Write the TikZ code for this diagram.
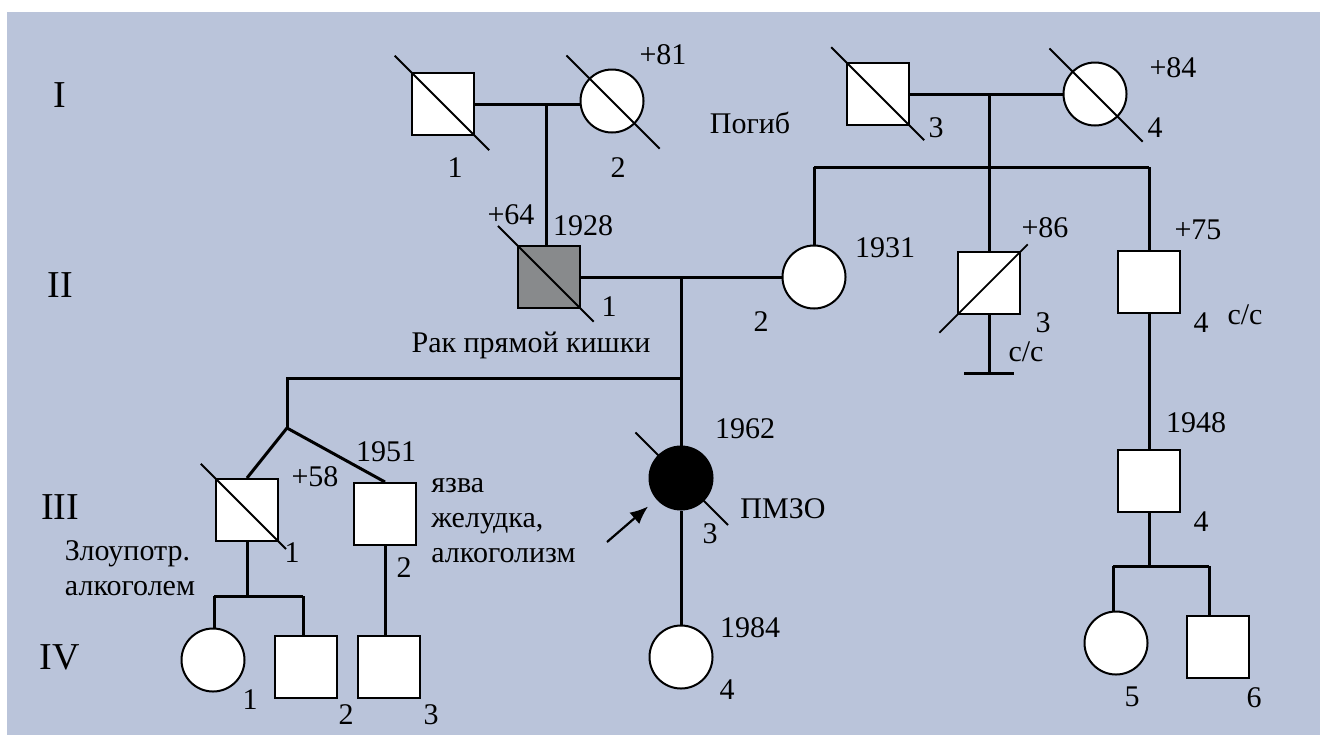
\documentclass[tikz,border=0pt]{standalone}
\usepackage{fontspec}
\setmainfont{Liberation Serif}
\usetikzlibrary{arrows.meta}

\definecolor{bgblue}{HTML}{BAC4DA}
\definecolor{sick}{HTML}{888A8C}

\pgfdeclarelayer{paper}
\pgfdeclarelayer{behind}
\pgfsetlayers{paper,behind,main}

\tikzset{%
	person/.style={draw, line width=1pt, fill=white, inner sep=0pt},
	male/.style={person, rectangle, minimum size=31pt},
	female/.style={person, circle, minimum size=31.5pt},
	line/.style={line width=1.5pt},
	deceased/.style 2 args={line width=0.9pt, shorten <=-#1, shorten >=-#2},
	lab/.style={inner sep=0pt, font=\fontsize{15}{17.5}\selectfont},
	gen/.style={inner sep=0pt, font=\fontsize{19}{22}\selectfont},
}

\begin{document}
\begin{tikzpicture}[x=0.5pt, y=-0.5pt]
			\useasboundingbox (0,0) rectangle (1320,735);
			\begin{pgfonlayer}{paper}
				\fill[white] (0,0) rectangle (1320,735);
				\fill[bgblue] (7,12) rectangle (1320,735);
			\end{pgfonlayer}
			
			% Generationen
			\node[gen] (gI) at (60,95) {I};
			\node[gen] (gII) at (60,285) {II};
			\node[gen] (gIII) at (60,507) {III};
			\node[gen] (gIV) at (60,657) {IV};
			
			% Personen
			\node[male] (I1) at (443,104) {};
			\node[female] (I2) at (612,101) {};
			\node[male] (I3) at (878,94) {};
			\node[female] (I4) at (1095,94) {};
			
			\node[male, fill=sick] (II1) at (549,277) {};
			\node[female] (II2) at (814,277) {};
			\node[male] (II3) at (989,283) {};
			\node[male] (II4) at (1149,282) {};
			
			\node[male] (III1) at (247,510) {};
			\node[male] (III2) at (385,514) {};
			\node[female, fill=black] (III3) at (681,478) {};
			\node[male] (III4) at (1149,481) {};
			
			\node[female] (IV1) at (213,660) {};
			\node[male] (IV2) at (306,667) {};
			\node[male] (IV3) at (389,667) {};
			\node[female] (IV4) at (681,657) {};
			\node[female] (IV5) at (1116,643) {};
			\node[male] (IV6) at (1218,647) {};
			
			\coordinate (m1) at (546,104);
			\coordinate (m2) at (681,277);
			\coordinate (s2) at (287,378);
			\coordinate (tw) at (287,428);
			\coordinate (m3) at (989,94);
			\coordinate (s1a) at (814,167);
			\coordinate (s1b) at (1149,167);
			\coordinate (nb) at (989,373);
			\coordinate (s3a) at (214,596);
			\coordinate (s3b) at (303,596);
			\coordinate (s4a) at (1113,566);
			\coordinate (s4b) at (1209,566);
			\coordinate (arr) at (607,542);
			
			% Linien
			\draw[line] (I1.east) -- (I1.east -| I2.west);
			\draw[line] (m1) -- (m1 |- II1.north);
			\draw[line] (I3) -- (I4);
			\draw[line] (m3) -- (II3.north);
			\draw[line] (s1a) -- (s1b);
			\draw[line] (s1a) -- (II2.north);
			\draw[line] (s1b) -- (II4.north);
			\draw[line] (II1) -- (II2);
			\draw[line] (m2) -- (III3.north);
			\draw[line] (s2 -| m2) -- (s2) -- (tw);
			\draw[line] (tw) -- (III1.north);
			\draw[line] (tw) -- (III2.north);
			\draw[line] (II3.south) -- (nb);
			\draw[line] ([xshift=-12.5pt]nb) -- ([xshift=12.5pt]nb);
			\draw[line] (II4.south) -- (III4.north);
			\draw[line] (III4.south) -- (III4.south |- s4a);
			\draw[line] (s4a) -- (s4b);
			\draw[line] (s4a) -- (s4a |- IV5.north);
			\draw[line] (s4b) -- (s4b |- IV6.north);
			\draw[line] (III1.south) -- (III1.south |- s3a);
			\draw[line] (s3a) -- (s3b);
			\draw[line] (s3a) -- (s3a |- IV1.north);
			\draw[line] (s3b) -- (s3b |- IV2.north);
			\draw[line] (III2.south) -- (III2.south |- IV3.north);
			\draw[line] (III3) -- (IV4);
			\draw[line width=1.1pt, -{Latex[length=9pt,width=7.5pt]}, shorten >=5.5pt] (arr) -- (III3);
			
			% verstorben
			\draw[deceased={11.5pt}{10pt}] (I1.north west) -- (I1.south east);
			\draw[deceased={16pt}{17.5pt}] (I2.135) -- (I2.-45);
			\draw[deceased={10.5pt}{10pt}] (I3.north west) -- (I3.south east);
			\draw[deceased={16pt}{17.5pt}] (I4.135) -- (I4.-45);
			\draw[deceased={13.5pt}{9pt}] (II1.north west) -- (II1.south east);
			\draw[deceased={12.5pt}{4.7pt}] (II3.south west) -- (II3.north east);
			\draw[deceased={10pt}{5pt}] (III1.north west) -- (III1.south east);
			\begin{pgfonlayer}{behind}
				\draw[deceased={16pt}{17pt}] (III3.135) -- (III3.-45);
			\end{pgfonlayer}
			
			% Beschriftungen
			\node[lab] (nI1) at (455,168) {1};
			\node[lab] (nI2) at (618,168) {2};
			\node[lab] (dI2) at (663,55) {+81};
			\node[lab, anchor=base] (tI3) at (750,133) {Погиб};
			\node[lab] (nI3) at (936,128) {3};
			\node[lab] (dI4) at (1173,68) {+84};
			\node[lab] (nI4) at (1155,128) {4};
			\node[lab] (dII1) at (511,215) {+64};
			\node[lab] (bII1) at (583,226) {1928};
			\node[lab] (nII1) at (609,307) {1};
			\node[lab, anchor=base] (tII1) at (531,352) {Рак прямой кишки};
			\node[lab] (nII2) at (761,322) {2};
			\node[lab] (bII2) at (885,248) {1931};
			\node[lab] (dII3) at (1045,228) {+86};
			\node[lab] (nII3) at (1043,323) {3};
			\node[lab] (cII3) at (1026,352) {с/с};
			\node[lab] (dII4) at (1198,230) {+75};
			\node[lab] (nII4) at (1201,323) {4};
			\node[lab] (cII4) at (1245,315) {с/с};
			\node[lab] (dIII1) at (315,477) {+58};
			\node[lab] (nIII1) at (292,553) {1};
			\node[lab, align=left] (tIII1) at (130,568) {Злоупотр.\\алкоголем};
			\node[lab] (bIII2) at (386,452) {1951};
			\node[lab] (nIII2) at (404,568) {2};
			\node[lab, align=left, anchor=west] (tIII2) at (431,521) {язва\\желудка,\\алкоголизм};
			\node[lab] (bIII3) at (745,429) {1962};
			\node[lab] (nIII3) at (710,534) {3};
			\node[lab, anchor=base] (tIII3) at (783,518) {ПМЗО};
			\node[lab] (bIII4) at (1196,423) {1948};
			\node[lab] (nIII4) at (1201,522) {4};
			\node[lab] (nIV1) at (250,700) {1};
			\node[lab] (nIV2) at (346,715) {2};
			\node[lab] (nIV3) at (431,715) {3};
			\node[lab] (bIV4) at (750,628) {1984};
			\node[lab] (nIV4) at (727,690) {4};
			\node[lab] (nIV5) at (1132,697) {5};
			\node[lab] (nIV6) at (1254,698) {6};
\end{tikzpicture}
\end{document}
